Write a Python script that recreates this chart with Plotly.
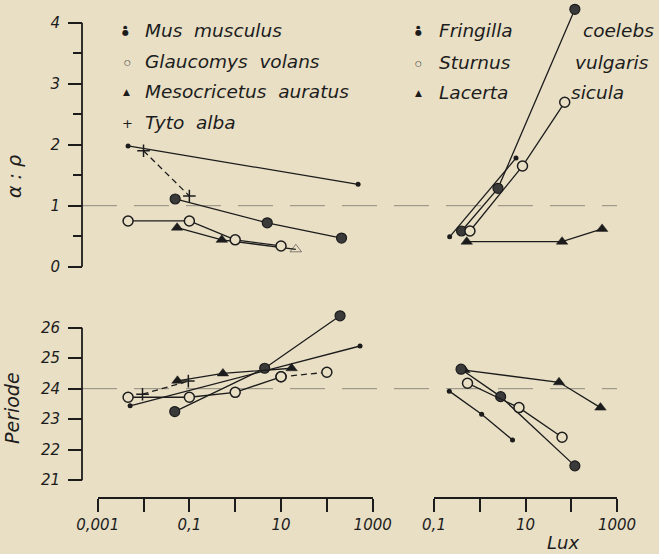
import plotly.graph_objects as go

# ---------------- data ----------------
# nocturnal species (left panel)
mus_small_lux_ar = [0.0046, 480]
mus_small_ar = [1.98, 1.35]
mus_big_lux_ar = [0.049, 5.0, 209]
mus_big_ar = [1.11, 0.72, 0.47]
tyto_lux_ar = [0.01, 0.1]
tyto_ar = [1.90, 1.16]
glauc_lux_ar = [0.0046, 0.1, 1, 10]
glauc_ar = [0.75, 0.75, 0.44, 0.34]
meso_lux_ar = [0.054, 0.51, 21]
meso_ar = [0.64, 0.44, 0.285]

mus_small_lux_p = [0.0051, 530]
mus_small_p = [23.44, 25.40]
mus_big_lux_p = [0.048, 4.4, 194]
mus_big_p = [23.25, 24.67, 26.39]
tyto_lux_p = [0.0095, 0.095]
tyto_p = [23.82, 24.25]
glauc_lux_p = [0.0046, 0.1, 1, 10, 100]
glauc_p = [23.72, 23.72, 23.88, 24.39, 24.54]
meso_lux_p = [0.055, 0.54, 17]
meso_p = [24.26, 24.50, 24.67]

# diurnal species (right panel)
fring_small_lux_ar = [0.22, 6.2]
fring_small_ar = [0.49, 1.78]
fring_big_lux_ar = [0.40, 2.5, 120]
fring_big_ar = [0.585, 1.285, 4.22]
sturn_lux_ar = [0.61, 8.6, 72]
sturn_ar = [0.585, 1.65, 2.695]
lacerta_lux_ar = [0.52, 63, 473]
lacerta_ar = [0.41, 0.41, 0.62]

fring_small_lux_p = [0.216, 1.1, 5.2]
fring_small_p = [23.92, 23.16, 22.32]
fring_big_lux_p = [0.39, 2.86, 120]
fring_big_p = [24.64, 23.74, 21.47]
sturn_lux_p = [0.54, 7.2, 63]
sturn_p = [24.18, 23.38, 22.41]
lacerta_lux_p = [0.46, 54, 435]
lacerta_p = [24.61, 24.21, 23.38]

nocturnal_names = ["Mus musculus", "Glaucomys volans", "Mesocricetus auratus", "Tyto alba"]
diurnal_genus = ["Fringilla", "Sturnus", "Lacerta"]
diurnal_species = ["coelebs", "vulgaris", "sicula"]

left_lux_ticks = [0.001, 0.01, 0.1, 1, 10, 100, 1000]
left_lux_text = ["0,001", "", "0,1", "", "10", "", "1000"]
right_lux_ticks = [0.1, 1, 10, 100, 1000]
right_lux_text = ["0,1", "", "10", "", "1000"]
ar_ticks = [0, 1, 2, 3, 4]
ar_minor = [0.5, 1.5, 2.5, 3.5]
per_ticks = [21, 22, 23, 24, 25, 26]

# ---------------- styling ----------------
W, H = 659, 554
INK = "#1c1c1c"
BG = "#e8dfc5"
FONT = "DejaVu Sans"


def fx(px):
    return px / W


def fy(py):
    return 1 - py / H


LINE = dict(color=INK, width=1.3)
SMALL = dict(symbol="circle", size=5, color=INK)
BIG = dict(symbol="circle", size=10, color="#3a3a3a", line=dict(color=INK, width=1.2))
OPEN = dict(symbol="circle", size=10, color=BG, line=dict(color=INK, width=1.5))
TRI = dict(symbol="triangle-up", size=10, color=INK, line=dict(color=INK, width=0.5))
PLUS = dict(symbol="cross-thin", size=9, line=dict(color=INK, width=1.5))

fig = go.Figure()


def add(x, y, marker, xa, ya, dash=None):
    fig.add_trace(go.Scatter(
        x=x, y=y, mode="lines+markers", marker=marker,
        line=dict(color=INK, width=1.3, dash=dash) if dash else LINE,
        xaxis=xa, yaxis=ya, showlegend=False, hoverinfo="skip"))


# left top
add(mus_small_lux_ar, mus_small_ar, SMALL, "x", "y")
add(tyto_lux_ar, tyto_ar, PLUS, "x", "y", dash="6px,4px")
add(mus_big_lux_ar, mus_big_ar, BIG, "x", "y")
meso_top = dict(TRI)
meso_top["symbol"] = ["triangle-up", "triangle-up", "triangle-up-open"]
add(meso_lux_ar, meso_ar, meso_top, "x", "y")
add(glauc_lux_ar, glauc_ar, OPEN, "x", "y")

# left bottom
add(mus_small_lux_p, mus_small_p, SMALL, "x", "y2")
add(mus_big_lux_p, mus_big_p, BIG, "x", "y2")
add(tyto_lux_p, tyto_p, PLUS, "x", "y2", dash="6px,4px")
add(meso_lux_p, meso_p, TRI, "x", "y2")
add(glauc_lux_p[3:], glauc_p[3:], OPEN, "x", "y2", dash="6px,4px")
add(glauc_lux_p[:4], glauc_p[:4], OPEN, "x", "y2")

# right top
add(fring_small_lux_ar, fring_small_ar, SMALL, "x2", "y")
add(fring_big_lux_ar, fring_big_ar, BIG, "x2", "y")
add(sturn_lux_ar, sturn_ar, OPEN, "x2", "y")
add(lacerta_lux_ar, lacerta_ar, TRI, "x2", "y")

# right bottom
add(fring_small_lux_p, fring_small_p, SMALL, "x2", "y2")
add(lacerta_lux_p, lacerta_p, TRI, "x2", "y2")
add(fring_big_lux_p, fring_big_p, BIG, "x2", "y2")
add(sturn_lux_p, sturn_p, OPEN, "x2", "y2")

tickfont = dict(family=FONT, size=15, color=INK, style="italic")
xcommon = dict(type="log", anchor="y2", showline=True, linecolor=INK, linewidth=1.8,
               ticks="outside", ticklen=13, tickwidth=1.8, tickcolor=INK,
               showgrid=False, zeroline=False, tickfont=tickfont, automargin=False)
ycommon = dict(anchor="free", position=fx(82), showline=False, ticks="outside",
               ticklen=14, tickwidth=1.8, tickcolor=INK, showgrid=False,
               zeroline=False, tickfont=tickfont, ticklabelstandoff=5,
               automargin=False)

fig.update_layout(
    template="none",
    width=W, height=H, margin=dict(l=0, r=0, t=0, b=0, pad=0, autoexpand=False),
    paper_bgcolor=BG, plot_bgcolor="rgba(0,0,0,0)",
    xaxis=dict(xcommon, domain=[fx(97.7), fx(372.7)], range=[-3, 3],
               tickvals=left_lux_ticks, ticktext=left_lux_text),
    xaxis2=dict(xcommon, domain=[fx(434), fx(617)], range=[-1, 3],
                tickvals=right_lux_ticks, ticktext=right_lux_text),
    yaxis=dict(ycommon, domain=[fy(275), fy(2)],
               range=[(266.7 - 275) / 61, (266.7 - 2) / 61],
               tickvals=ar_ticks, ticktext=[str(v) for v in ar_ticks],
               minor=dict(tickvals=ar_minor, ticklen=9, tickwidth=1.8,
                          tickcolor=INK, ticks="outside")),
    yaxis2=dict(ycommon, domain=[fy(496.7), fy(300)],
                range=[24 - (496.7 - 388.7) / 30.5, 24 + (388.7 - 300) / 30.5],
                tickvals=per_ticks, ticktext=[str(v) for v in per_ticks]),
)

# axis lines and reference lines
fig.add_shape(type="line", xref="paper", yref="y", x0=fx(82), x1=fx(82),
              y0=ar_ticks[0], y1=ar_ticks[-1], line=dict(color=INK, width=1.8))
fig.add_shape(type="line", xref="paper", yref="y2", x0=fx(82), x1=fx(82),
              y0=per_ticks[0], y1=per_ticks[-1], line=dict(color=INK, width=1.8))
fig.add_shape(type="line", xref="paper", yref="y", x0=fx(82), x1=fx(617),
              y0=1, y1=1, layer="below",
              line=dict(color="#8e8a7e", width=1, dash="35px,17px"))
fig.add_shape(type="line", xref="paper", yref="y2", x0=fx(82), x1=fx(617),
              y0=24, y1=24, layer="below",
              line=dict(color="#8e8a7e", width=1, dash="35px,17px"))

txtfont = dict(family=FONT, size=18.5, color=INK, style="italic")


def text(s, px, py, font=txtfont, xanchor="left", angle=0):
    fig.add_annotation(text=s, x=fx(px), y=fy(py), xref="paper", yref="paper",
                       xanchor=xanchor, yanchor="middle", showarrow=False,
                       font=font, textangle=angle)


def sym(s, px, py, size, h=None):
    fig.add_annotation(text=s, x=fx(px), y=fy(py), xref="paper", yref="paper",
                       xanchor="center", yanchor="middle", showarrow=False,
                       font=dict(family=FONT, size=size, color=INK), borderpad=0,
                       height=h)


NB = "\u00a0\u00a0"
rows_left = [30.7, 61.7, 91.7, 122.7]
for name, py in zip(nocturnal_names, rows_left):
    text(name.replace(" ", NB), 143, py)
rows_right = [30.7, 62.7, 92.7]
for g, s, py, sx in zip(diurnal_genus, diurnal_species, rows_right, [581, 573, 569]):
    text(g, 436.7, py)
    text(s, sx, py)

# legend keys
for kx in (125.5, 418.3):
    sym("●", kx, 26.2, 5, h=5)
    sym("●", kx, 32.8, 8, h=7)
sym("○", 127.7, 62, 7.5)
sym("▲", 126.7, 92, 9)
sym("+", 127.7, 123, 13)
sym("○", 418.3, 63, 7.5)
sym("▲", 418.3, 93, 9)

titlefont = dict(family=FONT, size=19, color=INK, style="italic")
text("α : ρ", 14, 177, font=titlefont, xanchor="center", angle=-90)
text("Periode", 12, 408, font=titlefont, xanchor="center", angle=-90)
text("Lux", 563, 542, font=dict(family=FONT, size=18, color=INK, style="italic"),
     xanchor="center")

fig.write_html(
    "out.html",
    config={"displayModeBar": False},
    post_script="document.body.style.margin='0';"
                "document.body.style.background='" + BG + "';",
)
